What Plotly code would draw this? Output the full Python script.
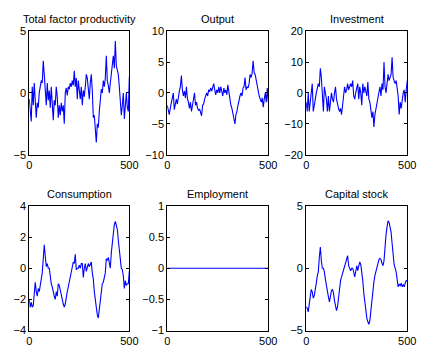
import plotly.graph_objects as go

# Simulated RBC model paths, sampled every 5 periods (percent deviations)
periods = list(range(0, 501, 5))

tfp = [
    -0.5, -1.5, -2.3, 0.5, -1.0, 0.8, -0.5, -2.0, -0.8, -1.2,
    0.0, 0.5, 1.0, 0.8, 2.6, 1.5, 0.0, -1.0, 0.8, -0.6,
    0.2, -1.2, 0.5, -1.5, -2.2, -0.6, -1.0, 0.5, -0.3, -2.0,
    -1.0, -1.8, -0.8, -1.5, -1.0, -2.5, 0.0, 0.4, -0.2, 0.5,
    0.3, 0.8, 0.5, 1.0, 0.6, 1.8, 0.5, 1.2, -0.5, 1.0,
    0.0, -0.5, 0.5, -1.0, 0.2, -0.3, 0.5, 1.5, 1.2, 0.0,
    -0.5, 0.8, 1.5, 0.2, -2.0, -1.8, -3.0, -4.0, -2.5, -2.8,
    -1.5, -0.2, 0.3, 0.0, 1.0, 0.5, 1.2, 3.0, 1.0, 0.6,
    0.0, 0.8, 1.5, 2.0, 3.0, 2.0, 4.2, 2.2, 1.8, 1.5,
    0.5, -0.5, -1.8, -1.0, 0.0, -2.1, -0.5, 0.0, -1.2, -1.5,
    1.3,
]

output = [
    -2.0, -3.2, -3.5, -2.5, -1.5, -0.5, 0.0, -2.7, -1.5, -1.0,
    -1.8, -0.5, 0.3, 1.0, 2.8, 0.5, -0.5, 0.3, -0.8, 1.0,
    -1.0, -1.5, -2.5, -1.5, -3.0, -2.0, -1.0, 0.0, -2.0, -1.5,
    -2.5, -2.8, -2.6, -3.0, -3.7, -2.0, -1.8, -1.0, -0.5, 0.0,
    -0.5, 0.5, 0.2, 0.8, 0.3, 1.0, 1.5, 0.5, -0.3, 0.5,
    0.0, 1.0, 0.0, 1.0, 0.3, -0.5, 0.8, 0.0, 0.5, -0.3,
    1.3, 0.0, -0.8, -2.0, -2.5, -3.5, -4.2, -5.0, -3.5, -3.0,
    -2.0, -1.0, -0.5, 0.0, -0.5, 0.8, 1.0, 2.5, 0.5, 1.0,
    0.8, 1.5, 3.0, 2.5, 3.2, 5.2, 3.3, 3.0, 2.0, 1.5,
    0.5, -0.5, -1.0, -1.5, -0.8, -2.3, -1.0, 0.0, -1.5, 0.8,
    -1.5,
]

investment = [
    -3, -6, 0, -6, -3, 0, 3, -6, -3, -2,
    0, 2, 3, 2, 8, 5, 0, -6, 2, 0,
    -2, -6, -1, -6, -3, 0, -2, -3, 0, 2,
    -2, -4, -5, -6, -5, -7, -3, -1, 2, 0,
    1, 3, 1, 2, 3, 2, 4, -1, -2, 0,
    2, 3, -2, 2, 0, -4, 3, 0, 2, 0,
    -1, 3.5, -2, -3, -5, -8, -6, -11, -7, -5,
    -3, -1, 0, 2, -1, 3, 1, 10, 2, 0,
    3, 6, 4, 5, 6, 11.5, 5, 4, 3, 4,
    1, -1, -7, -3, -5, -2, 0, 1, -3, 1,
    4,
]

consumption = [
    -2.0, -2.5, -2.2, -2.5, -2.4, -1.6, -0.9, -1.5, -1.8, -1.3,
    -1.5, -1.1, -0.7, -0.3, 0.6, 1.5, 0.8, 0.1, 0.3, 0.0,
    0.0, -0.6, -1.0, -1.2, -1.6, -1.8, -2.0, -1.5, -1.8, -1.0,
    -1.1, -1.5, -1.7, -2.0, -2.3, -2.5, -2.3, -1.8, -1.5, -1.2,
    -0.9, -0.6, -0.4, 0.0, 0.4, 0.3, 0.9, -0.1, 0.0, 0.0,
    0.2, 0.0, 0.3, 0.3, -0.6, 0.0, 0.3, -0.2, 0.1, 0.3,
    0.1, 0.3, 0.4, -0.3, -0.7, -1.5, -2.0, -2.6, -3.0, -3.2,
    -2.7, -2.1, -1.5, -1.0, -0.9, -0.5, -0.3, 0.6, 0.5, 0.7,
    0.3, 0.0, 1.0, 1.7, 2.2, 2.8, 3.0, 2.7, 2.5, 1.8,
    1.0, 0.3, 0.0, -0.1, -0.5, -1.3, -0.8, -1.1, -1.0, -1.0,
    -0.2,
]

employment = [0.0] * len(periods)

capital = [
    -3.1, -3.2, -3.5, -3.0, -2.3, -1.7, -1.9, -2.4, -2.2, -1.8,
    -1.2, -0.6, -0.3, 0.9, 1.7, 0.6, 0.0, 0.0, -0.3, -0.9,
    -1.5, -1.7, -2.3, -2.7, -2.2, -1.8, -1.7, -2.0, -2.6, -3.0,
    -3.4, -3.1, -2.3, -1.4, -1.0, -0.7, -0.4, -0.2, 0.1, 0.4,
    0.8, 1.0, 0.2, -0.1, -0.2, 0.0, 0.0, -0.3, -0.7, -0.3,
    0.2, -0.2, 0.3, 0.5, 0.3, -0.3, -1.0, -2.0, -2.8, -3.3,
    -4.0, -4.3, -4.5, -4.2, -3.4, -2.3, -1.6, -1.1, -0.6, -0.2,
    0.0, 0.4, 0.7, 0.8, 0.7, 0.4, 0.2, 0.6, 1.8, 2.7,
    3.3, 3.8, 3.7, 3.3, 2.9, 2.0, 1.0, 0.3, 0.0, -0.3,
    -0.9, -1.5, -1.3, -1.4, -1.2, -1.5, -1.3, -1.5, -1.2, -1.0,
    -1.0,
]

titles = ["Total factor productivity", "Output", "Investment",
          "Consumption", "Employment", "Capital stock"]
series = [tfp, output, investment, consumption, employment, capital]
y_ranges = [(-5, 5), (-10, 10), (-20, 20), (-4, 4), (-1, 1), (-5, 5)]
y_ticks = [[-5, 0, 5], [-10, -5, 0, 5, 10], [-20, -10, 0, 10, 20],
           [-4, -2, 0, 2, 4], [-1, -0.5, 0, 0.5, 1], [-5, 0, 5]]
x_ticks = [0, 500]

W, H = 425, 351
col_px = [(27, 130), (169, 273), (312, 416)]
row_px = [(26, 154), (207, 336)]
title_px = [13, 195]

fig = go.Figure()
font = dict(family="Liberation Sans, Arial, sans-serif", size=11, color="black")

for i, (title, ys) in enumerate(zip(titles, series)):
    r, c = divmod(i, 3)
    x0, x1 = col_px[c]
    y0, y1 = row_px[r]
    n = i + 1
    xa = "x" if n == 1 else f"x{n}"
    ya = "y" if n == 1 else f"y{n}"
    fig.add_trace(go.Scatter(
        x=periods, y=ys, mode="lines",
        line=dict(color="#0000ff", width=1.1),
        xaxis=xa, yaxis=ya, showlegend=False, hoverinfo="skip",
    ))
    axis_common = dict(
        showline=True, linecolor="black", linewidth=1, mirror="allticks",
        ticks="inside", ticklen=3, tickcolor="black", tickwidth=1,
        showgrid=False, zeroline=False, tickfont=font,
    )
    fig.layout[f"xaxis{'' if n == 1 else n}"] = dict(
        domain=[x0 / W, x1 / W], range=[0, 500],
        tickvals=x_ticks, anchor=ya, **axis_common,
    )
    fig.layout[f"yaxis{'' if n == 1 else n}"] = dict(
        domain=[1 - y1 / H, 1 - y0 / H], range=list(y_ranges[i]),
        tickvals=y_ticks[i], anchor=xa, **axis_common,
    )
    fig.add_annotation(
        x=(x0 + x1) / 2 / W, y=1 - title_px[r] / H, xref="paper", yref="paper",
        text=title, showarrow=False, xanchor="center", yanchor="middle",
        font=font,
    )

fig.update_layout(
    width=W, height=H, margin=dict(l=0, r=0, t=0, b=0),
    paper_bgcolor="white", plot_bgcolor="white",
)

fig.write_html("out.html")
